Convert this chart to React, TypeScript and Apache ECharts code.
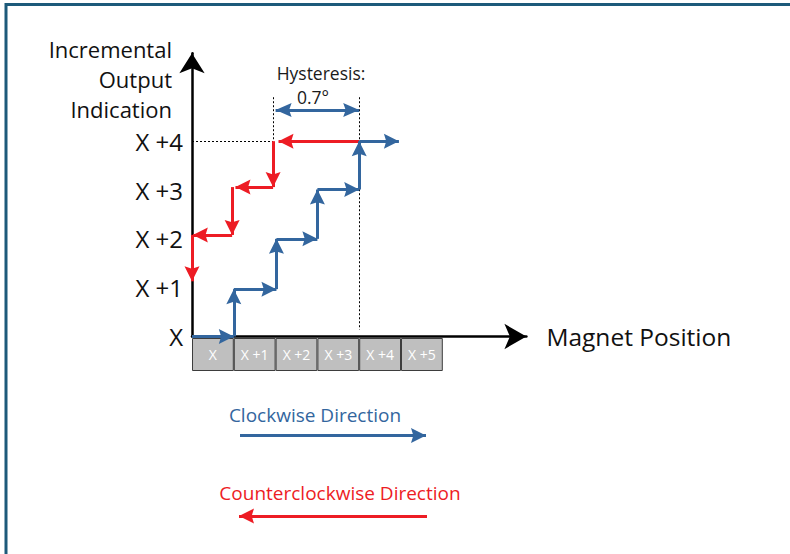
import React, { useEffect, useRef } from 'react';
import * as echarts from 'echarts';

// ---- data ----
const levelLabels = ['X', 'X +1', 'X +2', 'X +3', 'X +4'];
const cellLabels = ['X', 'X +1', 'X +2', 'X +3', 'X +4', 'X +5'];
const cellValues = [1, 1, 1, 1, 1, 1];

// clockwise (blue) staircase corners
const cwX = [0, 1, 1, 2.02, 2.02, 3, 3, 4, 4, 4.95];
const cwY = [0, 0, 0.97, 0.97, 2, 2, 3.01, 3.01, 4, 4];

// counterclockwise (red) segments (start -> arrow tip)
const ccwStartX = [4, 1.94, 1.94, 0.96, 0.96, 0];
const ccwStartY = [4, 4, 3.06, 3.06, 2.08, 2.08];
const ccwEndX = [2.07, 1.94, 1.04, 0.96, 0.02, 0];
const ccwEndY = [4, 3.06, 3.06, 2.08, 2.08, 1.13];

// dotted guide lines
const guideX1 = [0, 1.94, 4];
const guideY1 = [4, 4.9, 4.9];
const guideX2 = [1.94, 1.94, 4];
const guideY2 = [4, 4, 0.14];

// hysteresis span
const hystFrom = 2.0;
const hystTo = 4.0;
const hystLevel = 4.64;

const BLUE = '#33669e';
const RED = '#ed1c24';
const FONT = 'Open Sans';
const ARROW = 'path://M0,0 L8,16 L0,13.5 L-8,16 Z';

export default function App() {
  const ref = useRef<HTMLDivElement>(null);

  useEffect(() => {
    if (!ref.current) return;
    const chart = echarts.init(ref.current, null, { renderer: 'svg' });

    const unitX = 41.8;
    const unitY = 48.83;
    const originY = 336.5;
    const xMax = 8;
    const yMax = 5.8;
    const gridTop = originY - yMax * unitY;

    const cwSegs: any[] = [];
    for (let i = 0; i < cwX.length - 1; i++) {
      cwSegs.push([{ coord: [cwX[i], cwY[i]] }, { coord: [cwX[i + 1], cwY[i + 1]] }]);
    }
    const ccwSegs: any[] = ccwStartX.map((_, i) => [
      { coord: [ccwStartX[i], ccwStartY[i]] },
      { coord: [ccwEndX[i], ccwEndY[i]] },
    ]);
    const guideSegs: any[] = guideX1.map((_, i) => [
      { coord: [guideX1[i], guideY1[i]] },
      { coord: [guideX2[i], guideY2[i]] },
    ]);

    const option: any = {
      animation: false,
      textStyle: { fontFamily: FONT },
      grid: [
        {
          left: 192,
          top: gridTop,
          width: xMax * unitX,
          height: yMax * unitY,
          outerBoundsMode: 'none',
        },
        {
          left: 192,
          top: 338,
          width: 6 * unitX,
          height: 33,
          outerBoundsMode: 'none',
        },
      ],
      xAxis: [
        {
          type: 'value',
          gridIndex: 0,
          min: 0,
          max: xMax,
          interval: 1,
          axisLine: {
            show: true,
            onZero: false,
            symbol: ['none', 'arrow'],
            symbolSize: [19, 22],
            lineStyle: { color: '#000', width: 2.5 },
          },
          axisTick: { show: false },
          axisLabel: { show: false },
          splitLine: { show: false },
          name: 'Magnet Position',
          nameLocation: 'end',
          nameGap: 20,
          nameTextStyle: { fontFamily: FONT, fontSize: 24.5, color: '#111', padding: [4, 0, 0, 0] },
        },
        {
          type: 'category',
          gridIndex: 1,
          data: cellLabels,
          boundaryGap: true,
          show: false,
        },
      ],
      yAxis: [
        {
          type: 'value',
          gridIndex: 0,
          min: 0,
          max: yMax,
          interval: 1,
          axisLine: {
            show: true,
            onZero: false,
            symbol: ['none', 'arrow'],
            symbolSize: [19, 20],
            lineStyle: { color: '#000', width: 2.5 },
          },
          axisTick: { show: false },
          splitLine: { show: false },
          axisLabel: {
            margin: 9,
            fontFamily: FONT,
            fontSize: 24,
            color: '#111',
            formatter: (v: number) => (Number.isInteger(v) && levelLabels[v] ? levelLabels[v] : ''),
          },
          name: 'Incremental\nOutput\nIndication',
          nameLocation: 'end',
          nameGap: gridTop - 34,
          nameTextStyle: {
            fontFamily: FONT,
            fontSize: 22,
            color: '#111',
            align: 'right',
            verticalAlign: 'top',
            lineHeight: 30,
            padding: [0, 20, 0, 0],
          },
        },
        {
          type: 'value',
          gridIndex: 1,
          min: 0,
          max: 1,
          show: false,
        },
      ],
      series: [
        {
          type: 'bar',
          xAxisIndex: 1,
          yAxisIndex: 1,
          data: cellValues,
          barWidth: '100%',
          barCategoryGap: 0,
          silent: true,
          itemStyle: { color: '#bfbfbf', borderColor: '#3d3d3d', borderWidth: 1 },
          label: {
            show: true,
            position: 'inside',
            formatter: '{b}',
            color: '#fff',
            fontFamily: FONT,
            fontSize: 14,
          },
          z: 1,
        },
        {
          name: 'guides',
          type: 'line',
          xAxisIndex: 0,
          yAxisIndex: 0,
          data: [],
          z: 1,
          markLine: {
            silent: true,
            symbol: ['none', 'none'],
            label: { show: false },
            lineStyle: { color: '#000', width: 1, type: [2, 2] },
            data: guideSegs,
          },
        },
        {
          name: 'Counterclockwise',
          type: 'line',
          xAxisIndex: 0,
          yAxisIndex: 0,
          data: [],
          z: 3,
          markLine: {
            silent: true,
            symbol: ['none', ARROW],
            symbolSize: [15, 15],
            symbolOffset: [[0, 0], [0, 7.5]],
            label: { show: false },
            lineStyle: { color: RED, width: 3, type: 'solid' },
            data: ccwSegs,
          },
        },
        {
          name: 'Clockwise',
          type: 'line',
          xAxisIndex: 0,
          yAxisIndex: 0,
          data: [],
          z: 4,
          markLine: {
            silent: true,
            symbol: ['none', ARROW],
            symbolSize: [15, 15],
            symbolOffset: [[0, 0], [0, 7.5]],
            label: { show: false },
            lineStyle: { color: BLUE, width: 3, type: 'solid' },
            data: cwSegs,
          },
        },
        {
          name: 'Hysteresis',
          type: 'line',
          xAxisIndex: 0,
          yAxisIndex: 0,
          data: [],
          z: 4,
          markLine: {
            silent: true,
            symbol: [ARROW, ARROW],
            symbolSize: [14, 16],
            symbolOffset: [[0, 8], [0, 8]],
            label: { show: false },
            lineStyle: { color: BLUE, width: 3, type: 'solid' },
            data: [[{ coord: [hystFrom, hystLevel] }, { coord: [hystTo, hystLevel] }]],
          },
        },
        {
          name: 'legendArrows',
          type: 'line',
          xAxisIndex: 0,
          yAxisIndex: 0,
          data: [],
          z: 4,
          markLine: {
            silent: true,
            symbol: ['none', ARROW],
            symbolSize: [15, 15],
            symbolOffset: [[0, 0], [0, 7.5]],
            label: { show: false },
            data: [
              [
                { x: 240, y: 435.5, lineStyle: { color: BLUE, width: 3, type: 'solid' } },
                { x: 426, y: 435.5 },
              ],
              [
                { x: 427, y: 516, lineStyle: { color: RED, width: 3, type: 'solid' } },
                { x: 239, y: 516 },
              ],
            ],
          },
        },
      ],
      graphic: [
        {
          type: 'rect',
          silent: true,
          shape: { x: 6, y: 4.5, width: 820, height: 620 },
          style: { fill: 'none', stroke: '#1d5a7a', lineWidth: 3 },
          z: 100,
        },
        {
          type: 'text',
          x: 321,
          y: 73,
          style: {
            text: 'Hysteresis:',
            fontFamily: FONT,
            fontSize: 17.5,
            fill: '#1a1a1a',
            align: 'center',
            verticalAlign: 'middle',
          },
        },
        {
          type: 'text',
          x: 313,
          y: 97,
          style: {
            text: '0.7°',
            fontFamily: FONT,
            fontSize: 17.5,
            fill: '#1a1a1a',
            align: 'center',
            verticalAlign: 'middle',
          },
        },
        {
          type: 'text',
          x: 315,
          y: 415,
          style: {
            text: 'Clockwise Direction',
            fontFamily: FONT,
            fontSize: 19,
            fill: BLUE,
            align: 'center',
            verticalAlign: 'middle',
          },
        },
        {
          type: 'text',
          x: 340,
          y: 493,
          style: {
            text: 'Counterclockwise Direction',
            fontFamily: FONT,
            fontSize: 19,
            fill: RED,
            align: 'center',
            verticalAlign: 'middle',
          },
        },
      ],
    };

    chart.setOption(option);
    return () => chart.dispose();
  }, []);

  return (
    <div
      ref={ref}
      style={{ position: 'fixed', left: 0, top: 0, width: 790, height: 554, background: '#fff' }}
    />
  );
}
